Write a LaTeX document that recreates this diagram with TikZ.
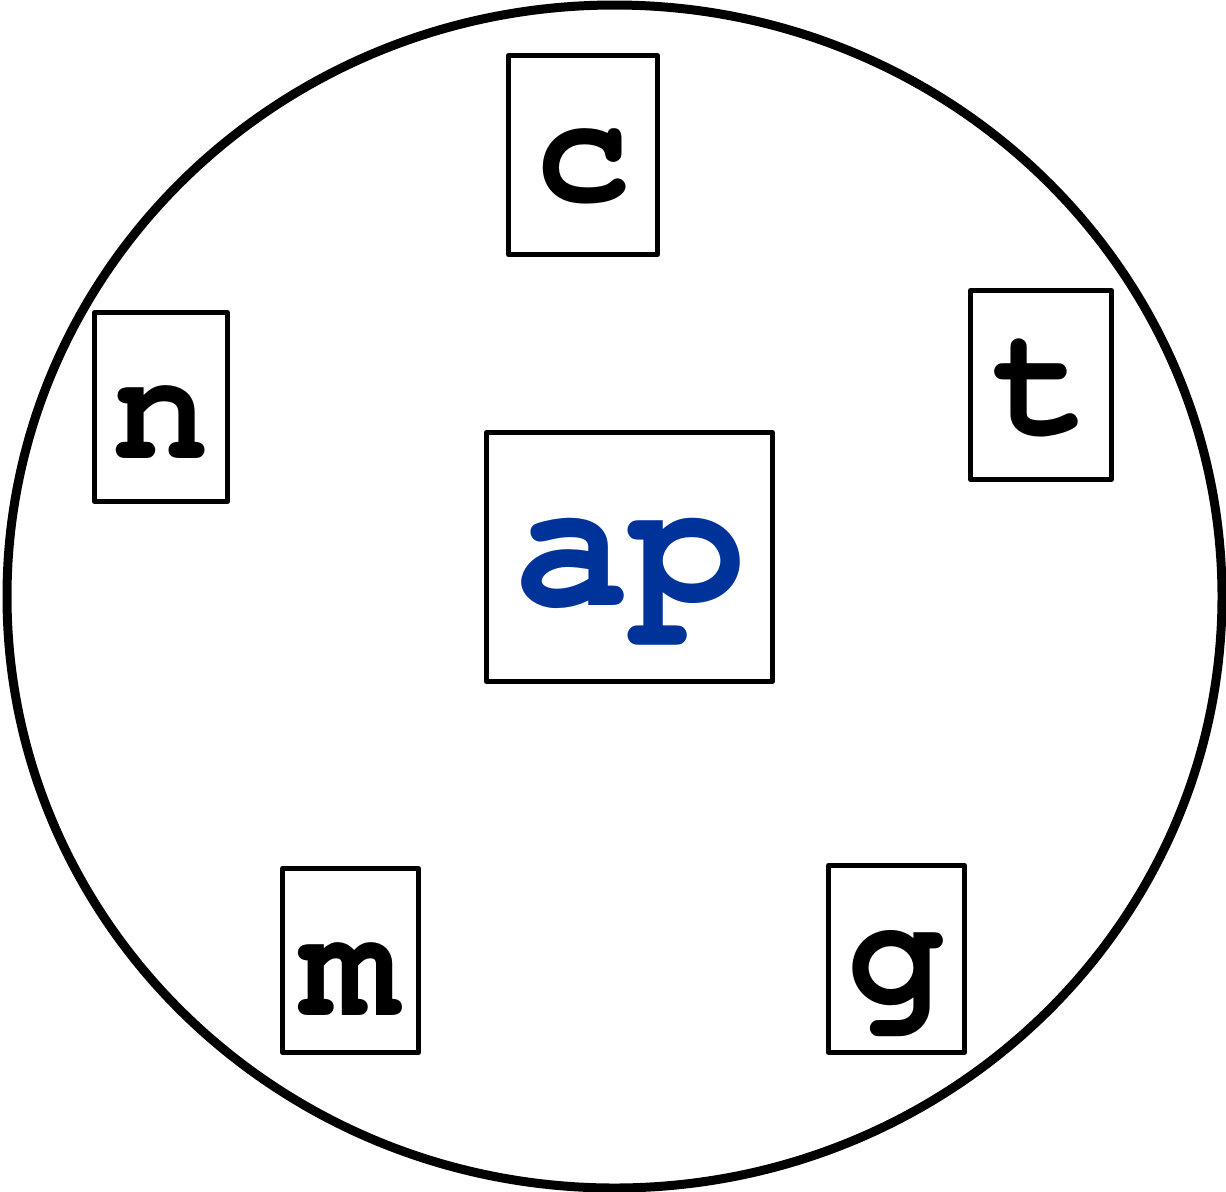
\documentclass[tikz,border=0pt]{standalone}
\usepackage[T1]{fontenc}
\usepackage{courier}
\usepackage{tikz}
\definecolor{apblue}{RGB}{0,51,153}
\tikzset{
  letterbox/.style={draw=black,line width=2.5pt,line join=round,inner sep=0pt,
    font=\ttfamily\bfseries\fontsize{81}{85}\selectfont,
    text height=49pt,text depth=0pt},
}
\begin{document}
\begin{tikzpicture}[x=0.5pt,y=-0.5pt]
\useasboundingbox (0,0) rectangle (1226,1191);
% objects at depth 100:
\draw[black,line width=4.5pt] (614.5,596.5) ellipse [x radius=607.5pt/2,y radius=591.5pt/2];
% objects at depth 50:
\node[letterbox,minimum width=74.5pt,minimum height=99.5pt,text height=46pt] (c) at (583,155) {c};
\node[letterbox,minimum width=70.5pt,minimum height=94.5pt] (t) at (1041,385) {t};
\node[letterbox,minimum width=66.5pt,minimum height=94.5pt,text height=51pt] (n) at (161,407) {n};
\node[letterbox,minimum width=143pt,minimum height=124.5pt,text=apblue,
  font=\ttfamily\bfseries\fontsize{97}{100}\selectfont,text height=48pt] (ap) at (629.5,557) {ap};
\node[letterbox,minimum width=68pt,minimum height=92pt,text height=55pt] (m) at (350.5,960.5) {m};
\node[letterbox,minimum width=68pt,minimum height=93.5pt,text height=44pt] (g) at (896.5,959) {g};
\end{tikzpicture}
\end{document}
